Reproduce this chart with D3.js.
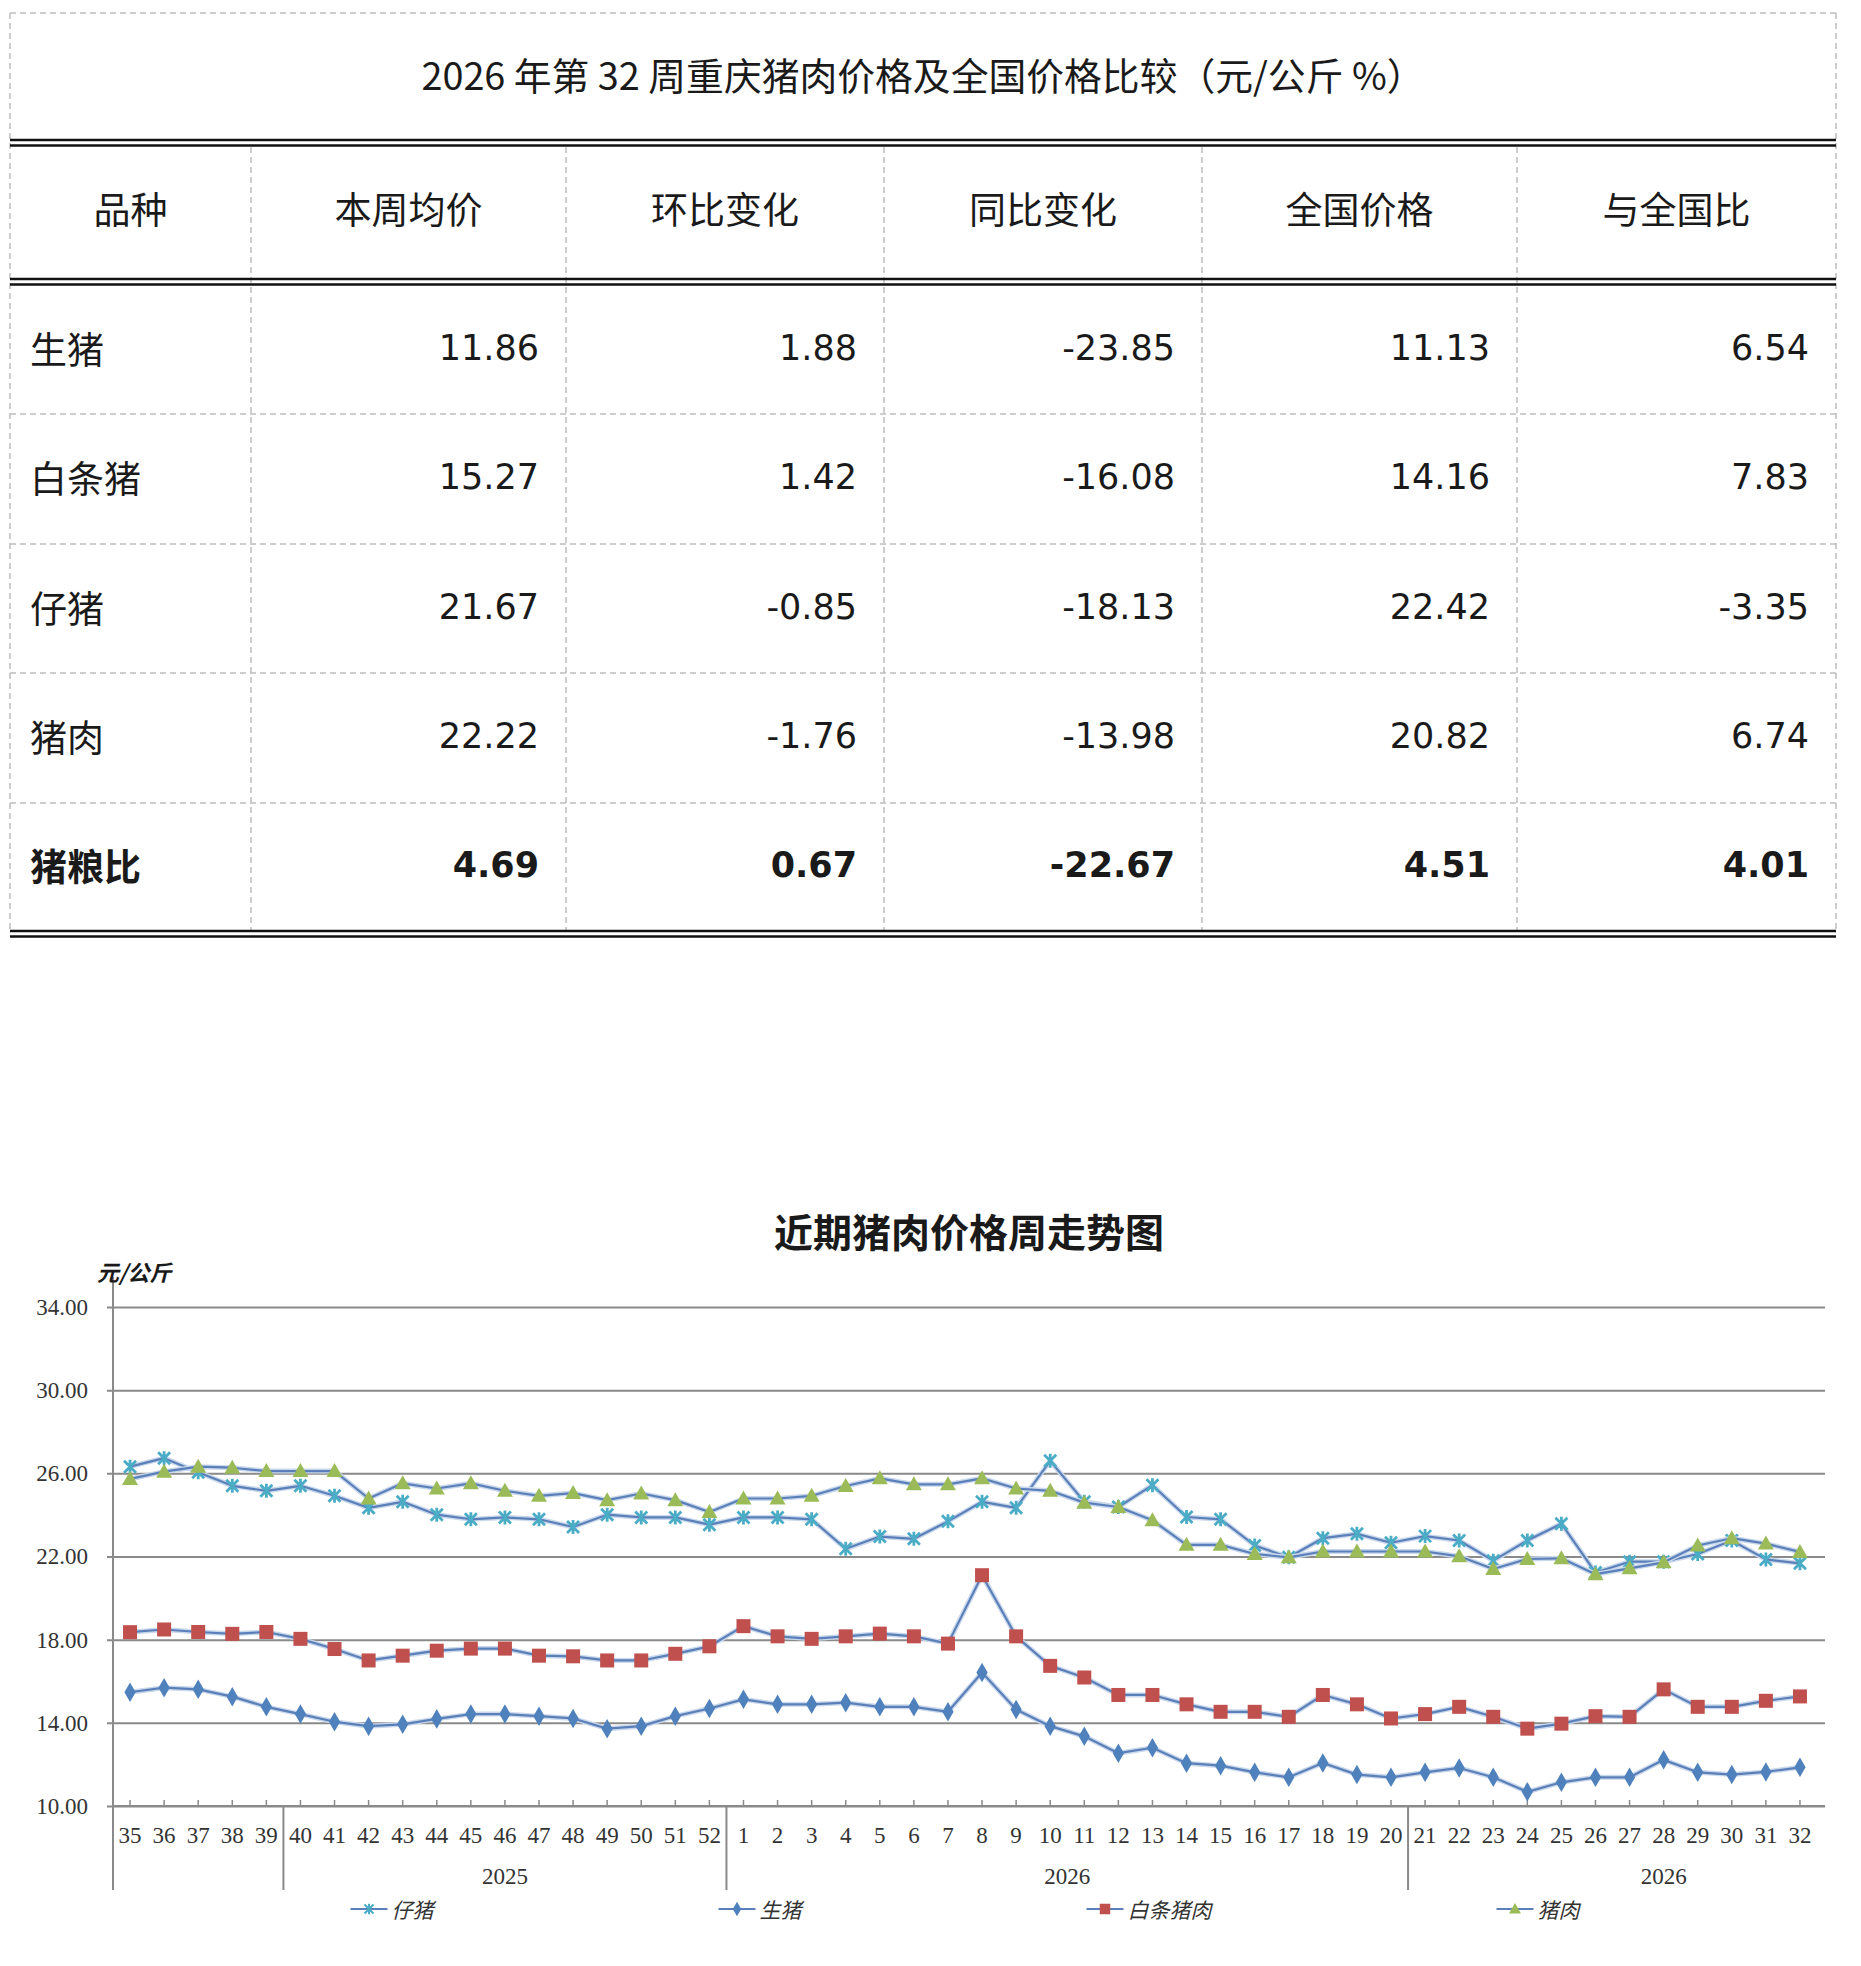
<!DOCTYPE html>
<html>
<head>
<meta charset="utf-8">
<script src="https://cdn.jsdelivr.net/npm/d3@7/dist/d3.min.js"></script>
<style>
  body { margin: 0; background: #fff; }
  svg { display: block; }
</style>
</head>
<body>
<div id="chart"></div>
<script>
// ---- table data ----
var tableTitle = "2026 年第 32 周重庆猪肉价格及全国价格比较（元/公斤 %）";
var headers = ["品种", "本周均价", "环比变化", "同比变化", "全国价格", "与全国比"];
var rowNames = ["生猪", "白条猪", "仔猪", "猪肉", "猪粮比"];
var avgPrice = ["11.86", "15.27", "21.67", "22.22", "4.69"];
var wowChange = ["1.88", "1.42", "-0.85", "-1.76", "0.67"];
var yoyChange = ["-23.85", "-16.08", "-18.13", "-13.98", "-22.67"];
var nationalPrice = ["11.13", "14.16", "22.42", "20.82", "4.51"];
var vsNational = ["6.54", "7.83", "-3.35", "6.74", "4.01"];

// ---- chart data ----
var chartTitle = "近期猪肉价格周走势图";
var yUnit = "元/公斤";
var weeks = ["35","36","37","38","39","40","41","42","43","44","45","46","47","48","49","50","51","52",
  "1","2","3","4","5","6","7","8","9","10","11","12","13","14","15","16","17","18","19","20",
  "21","22","23","24","25","26","27","28","29","30","31","32"];
// year groups: label, first week, number of categories spanned
var groupLabels = ["", "2025", "2026", "2026"];
var groupStart = ["35", "40", "1", "21"];
var groupSpan = [5, 13, 20, 15];
var yTicks = [10, 14, 18, 22, 26, 30, 34];

var seriesNames = ["仔猪", "生猪", "白条猪肉", "猪肉"];
var piglet = [26.32,26.73,26.05,25.40,25.16,25.40,24.92,24.34,24.63,24.01,23.79,23.88,23.79,23.42,24.01,23.88,23.88,23.53,
  23.88,23.88,23.79,22.37,22.96,22.85,23.69,24.63,24.34,26.60,24.63,24.38,25.43,23.90,23.79,22.53,21.96,22.88,23.09,22.66,
  22.98,22.77,21.80,22.77,23.58,21.23,21.75,21.75,22.12,22.77,21.86,21.67];
var liveHog = [15.47,15.69,15.61,15.26,14.77,14.42,14.05,13.84,13.93,14.19,14.42,14.42,14.32,14.21,13.72,13.84,14.32,14.69,
  15.13,14.89,14.89,14.97,14.77,14.77,14.53,16.42,14.64,13.84,13.35,12.54,12.80,12.06,11.94,11.62,11.38,12.07,11.51,11.38,
  11.62,11.83,11.38,10.68,11.14,11.38,11.38,12.22,11.62,11.51,11.64,11.86];
var carcass = [18.36,18.49,18.37,18.28,18.37,18.04,17.55,17.00,17.23,17.47,17.57,17.57,17.23,17.20,17.00,17.00,17.32,17.68,
  18.65,18.16,18.04,18.16,18.29,18.16,17.81,21.10,18.16,16.74,16.18,15.34,15.34,14.89,14.53,14.53,14.29,15.34,14.89,14.21,
  14.42,14.77,14.29,13.72,13.96,14.32,14.29,15.61,14.77,14.77,15.06,15.27];
var pork = [25.73,26.08,26.32,26.27,26.11,26.11,26.11,24.79,25.52,25.27,25.52,25.16,24.92,25.05,24.71,25.03,24.71,24.14,
  24.79,24.79,24.92,25.39,25.76,25.47,25.47,25.76,25.27,25.16,24.59,24.38,23.74,22.56,22.56,22.12,21.96,22.24,22.24,22.24,
  22.24,22.01,21.40,21.88,21.91,21.15,21.43,21.72,22.53,22.88,22.62,22.22];

var W = 1861, H = 1966;
var cjk = "'Noto Sans CJK SC', 'Noto Sans', sans-serif";
var num = "'DejaVu Sans', sans-serif";
var serif = "'Liberation Serif', 'DejaVu Serif', serif";

var svg = d3.select("#chart").append("svg").attr("width", W).attr("height", H);

/* ---------- Table ---------- */
var colX = [10, 251, 566, 884, 1202, 1517, 1836];
var rowY = [286, 414, 544, 673, 803, 931];
var tbl = svg.append("g").attr("class", "table");

function dashed(x1, y1, x2, y2) {
  tbl.append("line").attr("x1", x1).attr("y1", y1).attr("x2", x2).attr("y2", y2)
    .attr("stroke", "#bdbdbd").attr("stroke-width", 1.5).attr("stroke-dasharray", "6,4");
}
function doubleLine(y) {
  [y, y + 5.5].forEach(function (yy) {
    tbl.append("line").attr("x1", colX[0]).attr("x2", colX[6]).attr("y1", yy).attr("y2", yy)
      .attr("stroke", "#111").attr("stroke-width", 2.5);
  });
}

dashed(colX[0], 13, colX[6], 13);
dashed(colX[0], 13, colX[0], 931);
dashed(colX[6], 13, colX[6], 931);
colX.slice(1, 6).forEach(function (x) { dashed(x, 147, x, 930); });
rowY.slice(1, 5).forEach(function (y) { dashed(colX[0], y, colX[6], y); });
doubleLine(140);
doubleLine(279);
doubleLine(931);

tbl.append("text").attr("x", (colX[0] + colX[6]) / 2).attr("y", 73)
  .attr("text-anchor", "middle").attr("dominant-baseline", "central")
  .style("font-family", cjk).style("font-size", "37.8px").attr("fill", "#1a1a1a")
  .text(tableTitle);

headers.forEach(function (h, i) {
  tbl.append("text").attr("x", (colX[i] + colX[i + 1]) / 2).attr("y", 208)
    .attr("text-anchor", "middle").attr("dominant-baseline", "central")
    .style("font-family", cjk).style("font-size", "37px").attr("fill", "#1a1a1a")
    .text(h);
});

var columns = [avgPrice, wowChange, yoyChange, nationalPrice, vsNational];
rowNames.forEach(function (name, r) {
  var cy = (rowY[r] + rowY[r + 1]) / 2 - 2;
  var bold = r === rowNames.length - 1;
  tbl.append("text").attr("x", 30).attr("y", cy)
    .attr("dominant-baseline", "central")
    .style("font-family", cjk).style("font-size", "37px")
    .style("font-weight", bold ? "bold" : "normal").attr("fill", "#1a1a1a")
    .text(name);
  columns.forEach(function (col, c) {
    tbl.append("text").attr("x", colX[c + 2] - 27).attr("y", cy)
      .attr("text-anchor", "end").attr("dominant-baseline", "central")
      .style("font-family", num).style("font-size", "35px")
      .style("font-weight", bold ? "bold" : "normal").attr("fill", "#1a1a1a")
      .text(col[r]);
  });
});

/* ---------- Line chart ---------- */
var plotL = 113, plotR = 1817, plotT = 1307, plotB = 1806;

var x = d3.scaleBand().domain(weeks).range([plotL, plotR]);
var y = d3.scaleLinear().domain([10, 34]).range([plotB, plotT]);
var cx = function (w) { return x(w) + x.bandwidth() / 2; };

var chart = svg.append("g").attr("class", "chart");

// gridlines + y axis
var yAxis = d3.axisLeft(y).tickValues(yTicks).tickFormat(d3.format(".2f"))
  .tickSizeInner(-(plotR + 8 - plotL)).tickSizeOuter(0).tickPadding(0);
var yg = chart.append("g").attr("transform", "translate(" + plotL + ",0)").call(yAxis);
yg.select(".domain").remove();
yg.selectAll(".tick line").attr("x1", -6).attr("stroke", "#8a8a8a").attr("stroke-width", 2);
yg.selectAll(".tick text").attr("x", -25).attr("dy", "0.32em")
  .style("font-family", serif).style("font-size", "23px").attr("fill", "#333");

// vertical axis line (continues down through the year groups)
chart.append("line").attr("x1", plotL).attr("x2", plotL).attr("y1", 1277).attr("y2", 1890)
  .attr("stroke", "#8a8a8a").attr("stroke-width", 2);

// x axis
var xAxis = d3.axisBottom(x).tickSizeInner(-6).tickSizeOuter(0);
var xg = chart.append("g").attr("transform", "translate(0," + plotB + ")").call(xAxis);
xg.select(".domain").attr("d", "M" + plotL + ",0H" + (plotR + 8)).attr("stroke", "#8a8a8a").attr("stroke-width", 2);
xg.selectAll(".tick line").attr("stroke", "#8a8a8a").attr("stroke-width", 1.5);
xg.selectAll(".tick text").attr("y", 30).attr("dy", "0.32em")
  .style("font-family", serif).style("font-size", "23px").attr("fill", "#333");

// year groups
groupLabels.forEach(function (lab, i) {
  var x0 = x(groupStart[i]);
  var x1 = x0 + groupSpan[i] * x.bandwidth();
  if (i > 0) {
    chart.append("line").attr("x1", x0).attr("x2", x0).attr("y1", plotB).attr("y2", 1890)
      .attr("stroke", "#8a8a8a").attr("stroke-width", 2);
  }
  chart.append("text").attr("x", (x0 + x1) / 2).attr("y", 1876)
    .attr("text-anchor", "middle").attr("dominant-baseline", "central")
    .style("font-family", serif).style("font-size", "23px").attr("fill", "#333")
    .text(lab);
});

// titles
chart.append("text").attr("x", (plotL + plotR + 8) / 2).attr("y", 1230)
  .attr("text-anchor", "middle").attr("dominant-baseline", "central")
  .style("font-family", cjk).style("font-size", "39px").style("font-weight", "bold")
  .attr("fill", "#1a1a1a").text(chartTitle);
chart.append("text").attr("x", 97).attr("y", 1271)
  .attr("dominant-baseline", "central")
  .style("font-family", cjk).style("font-size", "22px").style("font-weight", "bold")
  .style("font-style", "italic").attr("fill", "#1a1a1a").text(yUnit);

// series
var seriesValues = [piglet, liveHog, carcass, pork];
var markerColors = ["#4bacc6", "#4f81bd", "#c0504d", "#9bbb59"];
var markerTypes = ["star", "diamond", "square", "triangle"];
var lineColor = "#5b80b9";

function drawMarker(g, type, color) {
  if (type === "star") {
    g.append("path").attr("d", "M-6,-6L6,6M6,-6L-6,6M0,-7L0,7")
      .attr("stroke", color).attr("stroke-width", 2.8).attr("fill", "none");
  } else if (type === "diamond") {
    g.append("path").attr("d", d3.symbol().type(d3.symbolDiamond).size(110)())
      .attr("fill", color);
  } else if (type === "square") {
    g.append("rect").attr("x", -7).attr("y", -7).attr("width", 14).attr("height", 14)
      .attr("fill", color);
  } else {
    g.append("path").attr("d", "M0,-8L8,6L-8,6Z").attr("fill", color);
  }
}

var line = d3.line().x(function (d, i) { return cx(weeks[i]); }).y(function (d) { return y(d); });

seriesValues.forEach(function (vals, s) {
  var g = chart.append("g").attr("class", "series");
  g.append("path").attr("d", line(vals)).attr("fill", "none")
    .attr("stroke", "#c9d8ec").attr("stroke-width", 5).attr("stroke-linejoin", "round");
  g.append("path").attr("d", line(vals)).attr("fill", "none")
    .attr("stroke", lineColor).attr("stroke-width", 2.2).attr("stroke-linejoin", "round");
  vals.forEach(function (v, i) {
    var m = g.append("g").attr("transform", "translate(" + cx(weeks[i]) + "," + y(v) + ")");
    drawMarker(m, markerTypes[s], markerColors[s]);
  });
});

// legend
var legend = chart.append("g").attr("class", "legend");
var items = [];
seriesNames.forEach(function (name, s) {
  var it = legend.append("g");
  it.append("line").attr("x1", 0).attr("x2", 37).attr("y1", 0).attr("y2", 0)
    .attr("stroke", lineColor).attr("stroke-width", 2);
  var m = it.append("g").attr("transform", "translate(18.5,0) scale(0.75)");
  drawMarker(m, markerTypes[s], markerColors[s]);
  var t = it.append("text").attr("x", 41).attr("y", 0).attr("dominant-baseline", "central")
    .style("font-family", cjk).style("font-size", "21px").style("font-style", "italic")
    .attr("fill", "#333").text(name);
  items.push({ g: it, w: 41 + t.node().getComputedTextLength() });
});
var gap = 285;
var total = d3.sum(items, function (d) { return d.w; }) + gap * (items.length - 1);
var lx = (plotL + plotR) / 2 - total / 2;
items.forEach(function (d) {
  d.g.attr("transform", "translate(" + lx + ",1909)");
  lx += d.w + gap;
});
</script>
</body>
</html>
